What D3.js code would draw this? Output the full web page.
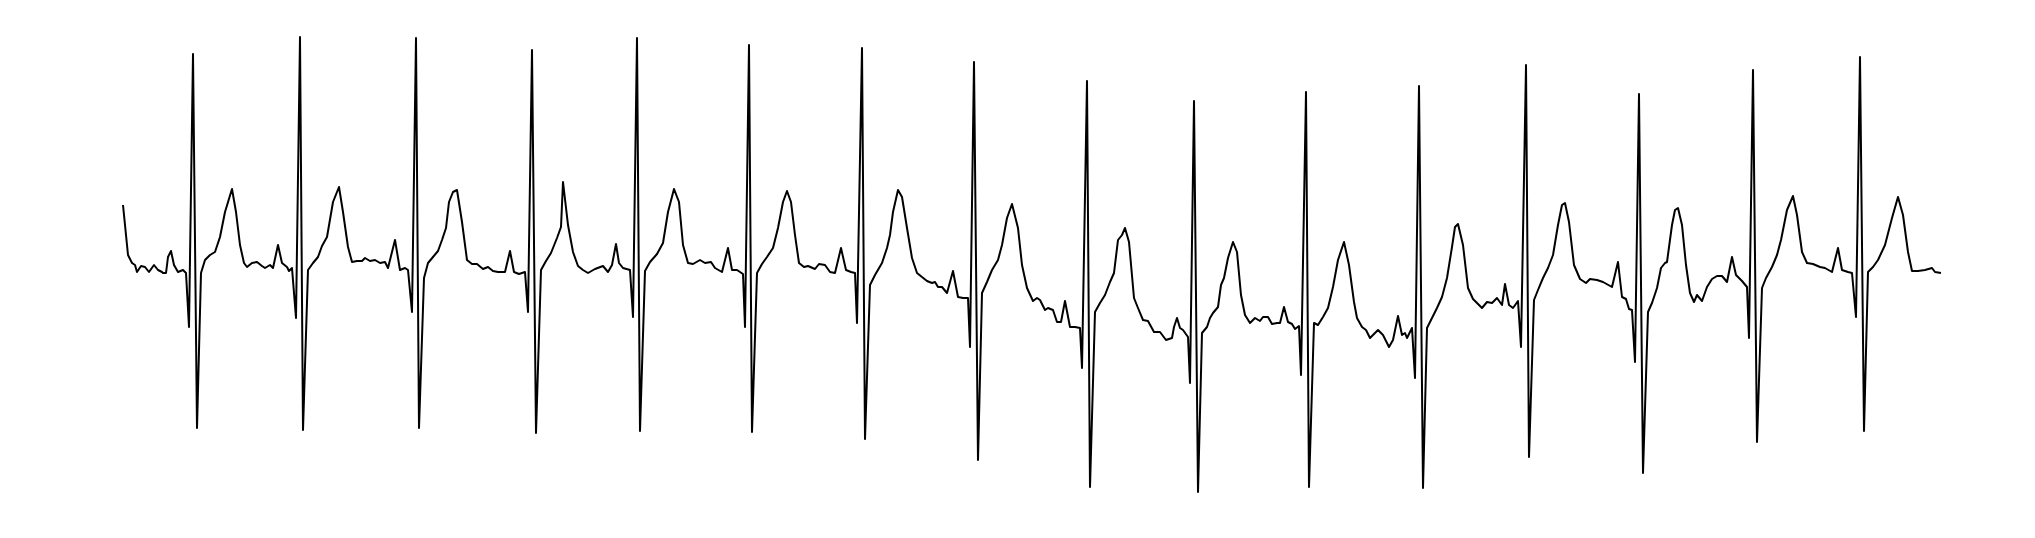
<!DOCTYPE html>
<html>
<head>
<meta charset="utf-8">
<script src="https://cdn.jsdelivr.net/npm/d3@7"></script>
<style>
  html, body { margin: 0; padding: 0; background: #fff; }
  svg { display: block; }
</style>
</head>
<body>
<script>
// ECG trace (sample index, amplitude in arbitrary units)
const sampleIndex = [
  1,6,10,13,15,19,23,27,32,36,40,41,44,46,49,52,56,61,64,67,71,75,79,83,88,93,98,103,110,114,118,122,125,130,135,140,
  143,148,151,156,160,165,167,170,174,178,181,186,191,196,200,205,211,217,221,226,230,235,240,243,248,253,258,263,266,273,278,283,286,290,294,297,
  302,306,311,316,320,324,327,331,335,340,345,350,355,361,366,371,376,383,388,392,397,403,406,410,414,419,424,429,435,439,441,446,451,
  456,461,466,473,481,486,490,494,497,501,508,511,515,518,523,528,535,541,546,552,557,561,566,571,578,583,589,593,600,606,610,
  615,621,623,627,630,635,640,645,651,656,661,665,669,673,677,682,686,693,697,703,708,713,719,724,729,733,735,740,743,748,753,760,765,
  768,771,776,780,785,790,795,800,805,810,813,816,820,825,831,836,841,846,848,852,856,860,865,870,876,880,885,890,896,900,905,911,915,
  918,923,926,931,935,939,943,948,953,958,960,965,968,973,978,983,988,992,996,1000,1003,1007,1012,1016,1021,1026,1032,1038,1044,1050,1052,1055,1058,1061,1066,1068,1072,1076,
  1080,1085,1088,1091,1096,1099,1102,1106,1111,1115,1119,1123,1128,1133,1138,1141,1146,1150,1155,1158,1162,1166,1170,1173,1177,1179,1184,1187,1192,1196,1201,1206,1211,1216,1222,1227,1232,
  1235,1240,1244,1248,1253,1256,1261,1267,1271,1276,1280,1283,1285,1290,1293,1297,1301,1305,1310,1315,1320,1325,1330,1333,1336,1341,1346,1351,1355,1360,1365,1370,1375,1380,1383,1387,
  1391,1396,1399,1404,1407,1412,1416,1421,1426,1431,1436,1440,1443,1447,1452,1458,1464,1468,1475,1481,1490,1496,1500,1504,1507,1510,1513,1517,1521,1526,1530,1535,1539,1543,
  1545,1550,1553,1556,1560,1564,1568,1572,1575,1580,1585,1590,1595,1600,1605,1610,1614,1620,1625,1627,1631,1635,1640,1644,1650,1655,1659,1665,1671,1675,1680,1685,1691,
  1698,1703,1710,1716,1720,1726,1730,1734,1738,1742,1746,1751,1756,1763,1770,1776,1781,1786,1790,1796,1803,1810,1813,1819
];
const amplitude = [
  67,17,9,7,0,6,5,0,7,2,0,-1,-1,15,21,7,0,2,-1,-55,218,-156,-1,12,17,20,35,60,83,60,27,9,5,9,10,6,
  4,7,4,27,9,5,1,4,-46,235,-158,2,9,15,26,35,70,85,60,25,10,11,11,14,11,12,9,10,4,32,2,4,2,-40,234,-156,
  -6,9,15,21,32,44,70,80,82,50,12,8,8,3,5,1,0,0,21,0,-2,0,-40,222,-161,2,11,19,34,45,90,47,20,
  6,2,-1,3,6,0,7,28,9,4,2,-45,234,-159,1,10,18,29,60,83,70,27,9,8,12,9,10,4,0,24,2,
  2,-2,-55,227,-160,-1,8,15,24,44,70,81,70,37,9,5,6,3,8,7,0,-1,24,2,0,-1,-51,224,-167,-13,-3,9,24,
  37,60,82,75,44,14,-1,-5,-9,-11,-10,-15,-15,-21,1,-25,-26,-26,-75,210,-188,-21,-10,2,12,27,54,68,44,7,-16,-29,-26,
  -28,-38,-36,-38,-50,-50,-29,-55,-55,-56,-96,191,-215,-40,-31,-23,-10,-1,32,37,44,30,-26,-36,-48,-49,-60,-60,-68,-66,-55,-46,-56,-58,-65,-111,171,-220,
  -61,-55,-46,-41,-35,-13,-6,14,30,20,-23,-43,-51,-46,-49,-45,-45,-52,-51,-51,-35,-50,-52,-57,-54,-103,180,-215,-51,-53,-45,-36,-15,12,30,7,-30,
  -46,-55,-58,-66,-61,-58,-63,-75,-68,-44,-63,-61,-66,-56,-106,186,-216,-56,-46,-36,-25,-6,25,45,48,27,-16,-27,-31,-36,-30,-31,-26,-33,-12,-33,
  -36,-29,-75,207,-185,-28,-18,-6,4,17,47,67,69,50,7,-7,-11,-7,-8,-10,-15,10,-25,-27,-37,-38,-90,178,-201,-40,-31,-16,4,9,
  10,47,62,64,47,7,-21,-30,-23,-29,-15,-7,-4,-4,-10,15,-3,-9,-15,-66,202,-170,-16,-6,5,17,32,62,76,57,20,9,8,
  5,4,0,24,2,0,-1,-45,215,-159,0,5,12,27,54,75,57,20,1,1,2,4,0,-1
];

const width = 2035, height = 538;

const svg = d3.select("body").append("svg")
  .attr("width", width)
  .attr("height", height);

svg.append("rect").attr("width", width).attr("height", height).attr("fill", "#fff");

const x = d3.scaleLinear().domain([0, 1819]).range([122, 1941]);
const y = d3.scaleLinear().domain([-230, 240]).range([502, 32]);

const data = sampleIndex.map((t, i) => ({ t, v: amplitude[i] }));

const line = d3.line()
  .x(d => x(d.t))
  .y(d => y(d.v));

svg.append("path")
  .datum(data)
  .attr("fill", "none")
  .attr("stroke", "#000")
  .attr("stroke-width", 2)
  .attr("stroke-linejoin", "round")
  .attr("d", line);
</script>
</body>
</html>
